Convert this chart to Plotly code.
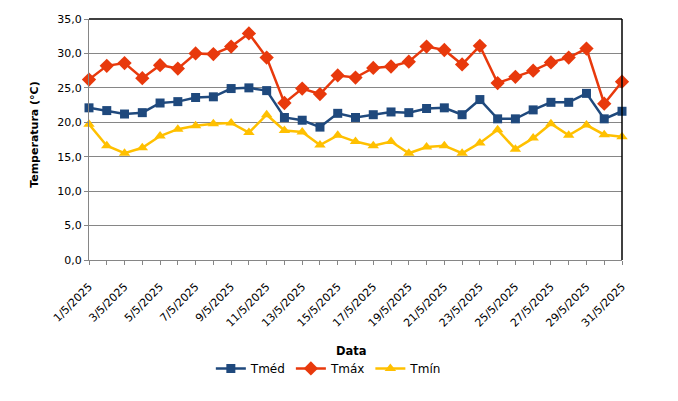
import plotly.graph_objects as go

dates = ["1/5/2025", "2/5/2025", "3/5/2025", "4/5/2025", "5/5/2025", "6/5/2025",
         "7/5/2025", "8/5/2025", "9/5/2025", "10/5/2025", "11/5/2025", "12/5/2025",
         "13/5/2025", "14/5/2025", "15/5/2025", "16/5/2025", "17/5/2025", "18/5/2025",
         "19/5/2025", "20/5/2025", "21/5/2025", "22/5/2025", "23/5/2025", "24/5/2025",
         "25/5/2025", "26/5/2025", "27/5/2025", "28/5/2025", "29/5/2025", "30/5/2025",
         "31/5/2025"]

tmed = [22.1, 21.7, 21.2, 21.4, 22.8, 23.0, 23.6, 23.7, 24.9, 25.0, 24.6, 20.7,
        20.3, 19.3, 21.3, 20.7, 21.1, 21.5, 21.4, 22.0, 22.1, 21.1, 23.3, 20.5,
        20.5, 21.8, 22.9, 22.9, 24.2, 20.5, 21.6]
tmax = [26.2, 28.2, 28.6, 26.4, 28.3, 27.8, 30.0, 29.9, 31.0, 32.9, 29.4, 22.8,
        24.9, 24.1, 26.8, 26.5, 27.9, 28.1, 28.8, 31.0, 30.5, 28.4, 31.1, 25.7,
        26.6, 27.5, 28.7, 29.4, 30.7, 22.7, 25.9]
tmin = [19.7, 16.6, 15.5, 16.3, 18.0, 19.0, 19.5, 19.8, 19.9, 18.5, 21.1, 18.8,
        18.6, 16.7, 18.1, 17.2, 16.6, 17.2, 15.5, 16.4, 16.6, 15.5, 17.0, 18.9,
        16.1, 17.7, 19.8, 18.1, 19.6, 18.2, 17.9]

y_ticks = [0, 5, 10, 15, 20, 25, 30, 35]

FONT = "DejaVu Sans"

fig = go.Figure()
fig.add_trace(go.Scatter(x=dates, y=tmed, name="Tméd", mode="lines+markers",
                         line=dict(color="#1F497D", width=2.5),
                         marker=dict(symbol="square", size=9, color="#1F497D"),
                         cliponaxis=False))
fig.add_trace(go.Scatter(x=dates, y=tmax, name="Tmáx", mode="lines+markers",
                         line=dict(color="#E8390C", width=2.5),
                         marker=dict(symbol="diamond", size=11, color="#E8390C"),
                         cliponaxis=False))
fig.add_trace(go.Scatter(x=dates, y=tmin, name="Tmín", mode="lines+markers",
                         line=dict(color="#FFC000", width=2.5),
                         marker=dict(symbol="triangle-up", size=10, color="#FFC000"),
                         cliponaxis=False))

ticktext = [d if i % 2 == 0 else "" for i, d in enumerate(dates)]

fig.update_layout(
    width=678, height=401,
    margin=dict(l=89, r=56, t=19, b=141, autoexpand=False),
    paper_bgcolor="white", plot_bgcolor="white",
    separators=",.",
    font=dict(family=FONT, size=12, color="#000000"),
    showlegend=True,
    legend=dict(orientation="h", x=0.45, xanchor="center", y=-0.45, yanchor="middle",
                font=dict(size=12), tracegroupgap=0),
    xaxis=dict(type="category", range=[0, 30], tickmode="array", tickvals=dates,
               ticktext=ticktext, tickangle=-45, ticks="outside", ticklen=4,
               tickcolor="#868686", showline=True, linecolor="#868686", linewidth=1,
               showgrid=False, zeroline=False, tickfont=dict(size=11),
               ticklabelstandoff=11, automargin=False),
    yaxis=dict(range=[0, 35], tickvals=y_ticks, tickformat=".1f", ticks="outside",
               ticklen=4, tickcolor="#868686", showline=True, linecolor="#868686",
               linewidth=1, showgrid=True, gridcolor="#868686", gridwidth=1,
               zeroline=False, tickfont=dict(size=11), automargin=False),
    annotations=[
        dict(text="<b>Temperatura (°C)</b>", xref="paper", yref="paper",
             x=-0.101, y=0.52, textangle=-90, showarrow=False,
             font=dict(size=11), xanchor="center", yanchor="middle"),
        dict(text="<b>Data</b>", xref="paper", yref="paper",
             x=0.4916, y=-0.376, showarrow=False, font=dict(size=11.5),
             xanchor="center", yanchor="middle"),
    ],
    shapes=[
        dict(type="line", xref="paper", yref="paper", x0=0, x1=1, y0=1, y1=1,
             line=dict(color="black", width=1.5)),
        dict(type="line", xref="paper", yref="paper", x0=1, x1=1, y0=0, y1=1,
             line=dict(color="black", width=1.5)),
    ],
)

fig.write_html("out.html", config={"displayModeBar": False},
               post_script="document.body.style.margin='0px';")
